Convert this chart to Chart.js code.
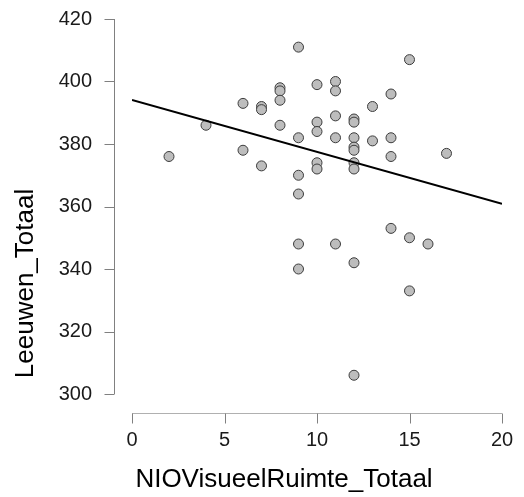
<!DOCTYPE html>
<html>
<head>
<meta charset="utf-8">
<script src="https://cdn.jsdelivr.net/npm/chart.js@4/dist/chart.umd.min.js"></script>
<style>
  html, body { margin: 0; padding: 0; background: #fff; }
  #wrap { width: 524px; height: 497px; position: relative; }
</style>
</head>
<body>
<div id="wrap"><canvas id="c"></canvas></div>
<script>
// Data
const xValues = [2, 4, 6, 6, 7, 7, 7, 8, 8, 8, 8, 9, 9, 9, 9, 9, 9, 10, 10, 10, 10, 10,
                 11, 11, 11, 11, 11, 12, 12, 12, 12, 12, 12, 12, 12, 12, 13, 13, 14, 14, 14, 14,
                 15, 15, 15, 16, 17];
const yValues = [376, 386, 393, 378, 392, 391, 373, 398, 397, 394, 386, 411, 382, 370, 364, 348, 340,
                 399, 387, 384, 374, 372, 400, 397, 389, 382, 348, 388, 387, 382, 379, 378, 374, 372,
                 342, 306, 392, 381, 396, 382, 376, 353, 407, 350, 333, 348, 377];
const fitX = [0, 20];
const fitY = [394.1, 360.9];
const xTicks = [0, 5, 10, 15, 20];
const yTicks = [300, 320, 340, 360, 380, 400, 420];
const xTitle = 'NIOVisueelRuimte_Totaal';
const yTitle = 'Leeuwen_Totaal';

const points = xValues.map((x, i) => ({ x: x, y: yValues[i] }));
const fitLine = fitX.map((x, i) => ({ x: x, y: fitY[i] }));

const FONT = "'Liberation Sans', Arial, sans-serif";

const axesPlugin = {
  id: 'offsetAxes',
  afterDraw(chart) {
    const ctx = chart.ctx;
    const xs = chart.scales.x, ys = chart.scales.y;
    const area = chart.chartArea;
    ctx.save();
    ctx.strokeStyle = '#808080';
    ctx.lineWidth = 1;
    // y axis
    const ax = Math.round(area.left - 18) + 0.5;
    ctx.beginPath();
    ctx.moveTo(ax, ys.getPixelForValue(yTicks[0]));
    ctx.lineTo(ax, ys.getPixelForValue(yTicks[yTicks.length - 1]));
    yTicks.forEach(v => {
      const py = Math.round(ys.getPixelForValue(v)) + 0.5;
      ctx.moveTo(ax - 10, py);
      ctx.lineTo(ax, py);
    });
    ctx.stroke();
    // x axis
    const ay = Math.round(area.bottom + 19) + 0.5;
    ctx.beginPath();
    ctx.strokeStyle = '#b0b0b0';
    ctx.moveTo(xs.getPixelForValue(xTicks[0]), ay);
    ctx.lineTo(xs.getPixelForValue(xTicks[xTicks.length - 1]), ay);
    ctx.stroke();
    ctx.beginPath();
    ctx.strokeStyle = '#808080';
    xTicks.forEach(v => {
      const px = Math.round(xs.getPixelForValue(v)) + 0.5;
      ctx.moveTo(px, ay);
      ctx.lineTo(px, ay + 10);
    });
    ctx.stroke();
    // axis titles
    ctx.fillStyle = '#000';
    ctx.font = '26px ' + FONT;
    ctx.textAlign = 'center';
    ctx.textBaseline = 'alphabetic';
    ctx.fillText(xTitle, 284, 487);
    ctx.translate(33, 283.5);
    ctx.rotate(-Math.PI / 2);
    ctx.fillText(yTitle, 0, 0);
    ctx.restore();
  }
};

new Chart(document.getElementById('c'), {
  type: 'scatter',
  data: {
    datasets: [
      {
        data: points,
        pointRadius: 5,
        pointHoverRadius: 5,
        backgroundColor: '#bdbdbd',
        borderColor: '#3c3c3c',
        borderWidth: 1,
        order: 2
      },
      {
        data: fitLine,
        showLine: true,
        borderColor: '#000',
        borderWidth: 2,
        pointRadius: 0,
        fill: false,
        order: 1
      }
    ]
  },
  options: {
    responsive: true,
    maintainAspectRatio: false,
    animation: false,
    layout: { padding: { top: 19, right: 22, left: 0, bottom: 0 } },
    plugins: { legend: { display: false }, tooltip: { enabled: false } },
    scales: {
      x: {
        type: 'linear',
        min: 0, max: 20,
        afterBuildTicks(scale) { scale.ticks = xTicks.map(v => ({ value: v })); },
        afterFit(scale) { scale.height = 103; },
        grid: { display: false, drawTicks: true, tickLength: 34 },
        border: { display: false },
        ticks: { padding: 0, color: '#1a1a1a', font: { family: FONT, size: 20 }, maxRotation: 0 }
      },
      y: {
        type: 'linear',
        min: 300, max: 420,
        afterBuildTicks(scale) { scale.ticks = yTicks.map(v => ({ value: v })); },
        afterFit(scale) { scale.width = 132; },
        grid: { display: false, drawTicks: true, tickLength: 40 },
        border: { display: false },
        ticks: { padding: 0, color: '#1a1a1a', font: { family: FONT, size: 20 } }
      }
    }
  },
  plugins: [axesPlugin]
});
</script>
</body>
</html>
